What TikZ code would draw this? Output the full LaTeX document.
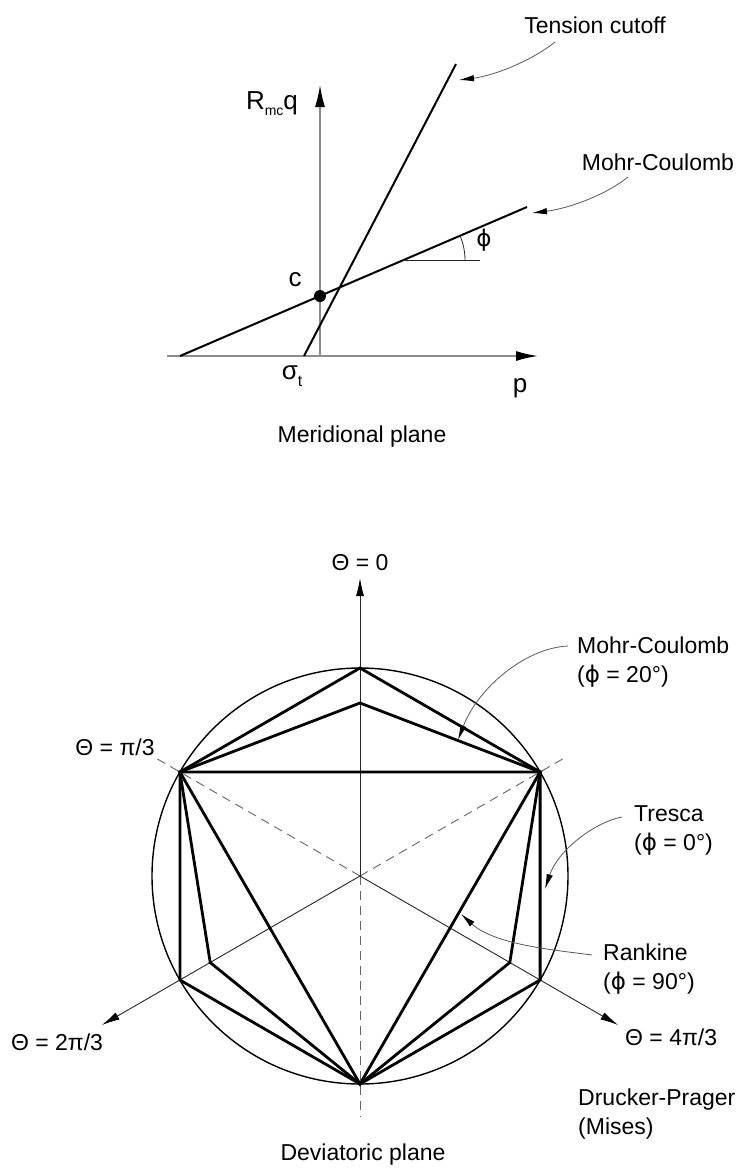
\documentclass[tikz,border=0pt]{standalone}
\usepackage{fontspec}
\setmainfont{Liberation Sans}
\newfontfamily\phifont{DejaVu Sans}
\newcommand{\myphi}{{\phifont ϕ}}
\usetikzlibrary{arrows.meta}
\begin{document}
\begin{tikzpicture}[x=1pt,y=-1pt,
  txt/.style={inner sep=0pt,font=\fontsize{23}{29}\selectfont},
  bigtxt/.style={inner sep=0pt,font=\fontsize{26}{30}\selectfont},
  axisg/.style={draw=black!45,line width=1.6pt,-{Latex[length=22pt,width=10pt,black]}},
  yieldline/.style={draw=black,line width=2pt},
  thinline/.style={draw=black!85,line width=0.6pt},
  axisb/.style={draw=black!85,line width=0.9pt,-{Latex[length=18pt,width=8pt,black]}},
  dashline/.style={draw=black!60,line width=0.9pt,dash pattern=on 9pt off 6pt},
  poly/.style={draw=black,line width=2.8pt,line join=miter,miter limit=20},
  circ/.style={draw=black,line width=1.4pt},
  lblarrow/.style={draw=black!65,line width=0.8pt,-{Latex[length=15pt,width=6.5pt,black]}}
]
\useasboundingbox (0,0) rectangle (740,1176);
\fill[white] (0,0) rectangle (740,1176);

% ---------------- Meridional plane ----------------
\coordinate (O) at (320,356);
\coordinate (xs) at (167,356);
\coordinate (xe) at (538,356);
\coordinate (ye) at (320,85);
\draw[axisg] (xs) -- (xe);
\draw[axisg] (O) -- (ye);

\coordinate (mc0) at (180,356);
\coordinate (mc1) at (527,207);
\coordinate (tc0) at (304,356);
\coordinate (tc1) at (456,64);
\draw[yieldline] (mc0) -- (mc1);
\draw[yieldline] (tc0) -- (tc1);

\node[circle,fill=black,inner sep=0pt,minimum size=12pt] (cdot) at (320,296) {};
\node[bigtxt] (clab) at (295,280) {c};

\coordinate (phic) at (403,260);
\coordinate (phie) at (480,260);
\draw[thinline,line width=0.8pt] (phic) -- (phie);
\draw[thinline,line width=0.8pt] (465,260) arc[start angle=0,end angle=-23,radius=62];
\node[txt] (phitop) at (484,240) {\myphi};

\node[bigtxt] (rq) at (272,104) {R\raisebox{-6pt}{\fontsize{14}{14}\selectfont mc}q};
\node[bigtxt] (sig) at (292,376) {σ\raisebox{-7pt}{\fontsize{16}{16}\selectfont t}};
\node[bigtxt] (plab) at (520,388) {p};
\node[txt] (merid) at (362,437) {Meridional plane};

\node[txt] (tclab) at (595,25) {Tension cutoff};
\node[txt] (mclab) at (658,162) {Mohr-Coulomb};
\coordinate (tcs) at (555,42);
\coordinate (tct) at (459,80);
\coordinate (mcs) at (628,177);
\coordinate (mct) at (532,213);
\draw[lblarrow] (tcs) .. controls (530,62) and (492,76) .. (tct);
\draw[lblarrow] (mcs) .. controls (603,197) and (565,209) .. (mct);

% ---------------- Deviatoric plane ----------------
\coordinate (C) at (360,876);
\coordinate (T) at (360,668);
\coordinate (UR) at (540.1,772);
\coordinate (LR) at (540.1,980);
\coordinate (B) at (360,1084);
\coordinate (LL) at (179.9,980);
\coordinate (UL) at (179.9,772);
\coordinate (Ti) at (360,703);
\coordinate (LRi) at (509.8,962.5);
\coordinate (LLi) at (210.2,962.5);

\coordinate (a0) at (360,578);
\coordinate (a2) at (101.9,1025);
\coordinate (a4) at (618.1,1025);
\coordinate (d1) at (154.8,757.5);
\coordinate (d2) at (565.2,757.5);
\coordinate (d3) at (360,1117);

\draw[dashline] (C) -- (d1);
\draw[dashline] (C) -- (d2);
\draw[dashline] (C) -- (d3);
\draw[axisb] (C) -- (a0);
\draw[axisb] (C) -- (a2);
\draw[axisb] (C) -- (a4);

\draw[circ] (C) circle[radius=208];

\draw[poly] (T) -- (UR) -- (LR) -- (B) -- (LL) -- (UL) -- cycle;
\draw[poly] (UL) -- (Ti) -- (UR) -- (LRi) -- (B) -- (LLi) -- cycle;
\draw[poly] (UL) -- (UR) -- (B) -- cycle;

\node[txt] (th0) at (360,563) {Θ = 0};
\node[txt] (th1) at (115,747) {Θ = π/3};
\node[txt] (th2) at (57,1042) {Θ = 2π/3};
\node[txt,anchor=west] (th4) at (625,1037) {Θ = 4π/3};

\node[txt,anchor=west,align=left] (mcdev) at (577,662) {Mohr-Coulomb\\(\myphi{} = 20°)};
\node[txt,anchor=west,align=left] (tres) at (634,830) {Tresca\\(\myphi{} = 0°)};
\node[txt,anchor=west,align=left] (rank) at (603,969) {Rankine\\(\myphi{} = 90°)};
\node[txt,anchor=west,align=left] (dp) at (578,1114) {Drucker-Prager\\(Mises)};
\node[txt] (devi) at (363,1155) {Deviatoric plane};

\coordinate (mcds) at (568,646);
\coordinate (mcdt) at (458,740);
\coordinate (trs) at (622,817);
\coordinate (trt) at (545,889);
\coordinate (rks) at (592,955);
\coordinate (rkt) at (461,914);
\draw[lblarrow] (mcds) .. controls (525,648) and (478,688) .. (mcdt);
\draw[lblarrow] (trs) .. controls (595,822) and (558,850) .. (trt);
\draw[lblarrow] (rks) .. controls (555,950) and (495,945) .. (rkt);
\end{tikzpicture}
\end{document}
